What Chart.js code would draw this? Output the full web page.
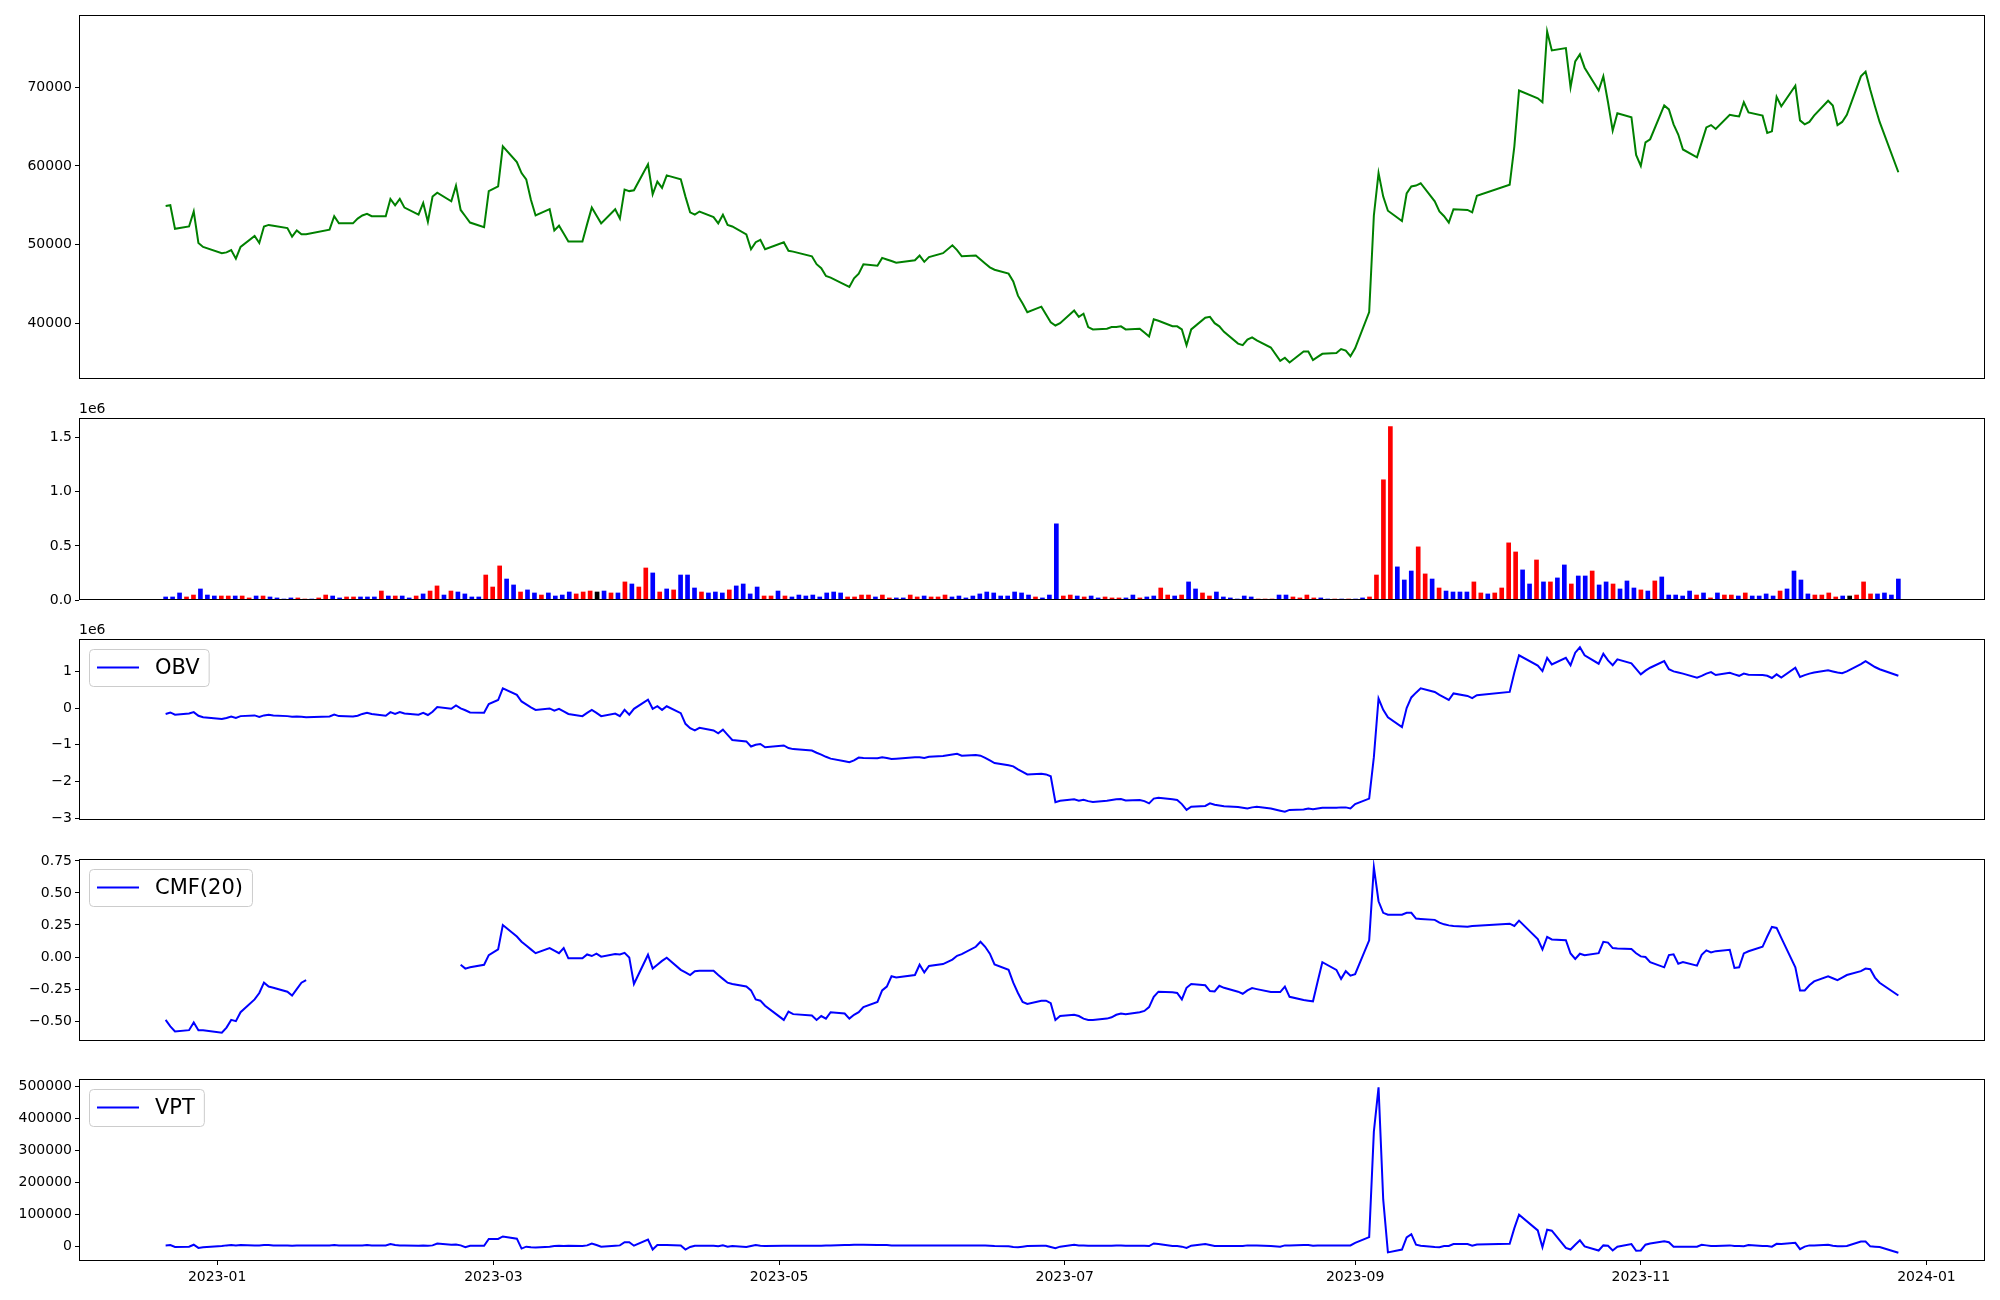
<!DOCTYPE html>
<html>
<head>
<meta charset="utf-8">
<title>Price and volume indicators</title>
<style>
  body { margin: 0; background: #fff; }
  #wrap { position: relative; width: 2000px; height: 1300px; overflow: hidden; }
  .panel { position: absolute; left: 0; width: 2000px; }
</style>
</head>
<body>
<div id="wrap">
  <div class="panel" id="p-price"></div>
  <div class="panel" id="p-volume"></div>
  <div class="panel" id="p-obv"></div>
  <div class="panel" id="p-cmf"></div>
  <div class="panel" id="p-vpt"></div>
</div>

<script src="https://cdn.jsdelivr.net/npm/chart.js"></script>
<script>
// ---- data ----
const dates = [
  '2022-12-21','2022-12-22','2022-12-23','2022-12-26','2022-12-27','2022-12-28','2022-12-29',
  '2023-01-02','2023-01-03','2023-01-04','2023-01-05','2023-01-06','2023-01-09','2023-01-10','2023-01-11','2023-01-12','2023-01-13',
  '2023-01-16','2023-01-17','2023-01-18','2023-01-19','2023-01-20','2023-01-25','2023-01-26','2023-01-27','2023-01-30','2023-01-31',
  '2023-02-01','2023-02-02','2023-02-03','2023-02-06','2023-02-07','2023-02-08','2023-02-09','2023-02-10','2023-02-13','2023-02-14',
  '2023-02-15','2023-02-16','2023-02-17','2023-02-20','2023-02-21','2023-02-22','2023-02-23','2023-02-24','2023-02-27','2023-02-28',
  '2023-03-02','2023-03-03','2023-03-06','2023-03-07','2023-03-08','2023-03-09','2023-03-10','2023-03-13','2023-03-14','2023-03-15','2023-03-16',
  '2023-03-17','2023-03-20','2023-03-21','2023-03-22','2023-03-23','2023-03-24','2023-03-27','2023-03-28','2023-03-29','2023-03-30','2023-03-31',
  '2023-04-03','2023-04-04','2023-04-05','2023-04-06','2023-04-07','2023-04-10','2023-04-11','2023-04-12','2023-04-13','2023-04-14',
  '2023-04-17','2023-04-18','2023-04-19','2023-04-20','2023-04-21','2023-04-24','2023-04-25','2023-04-26','2023-04-27','2023-04-28',
  '2023-05-02','2023-05-03','2023-05-04','2023-05-08','2023-05-09','2023-05-10','2023-05-11','2023-05-12','2023-05-15','2023-05-16',
  '2023-05-17','2023-05-18','2023-05-19','2023-05-22','2023-05-23','2023-05-24','2023-05-25','2023-05-26','2023-05-30','2023-05-31',
  '2023-06-01','2023-06-02','2023-06-05','2023-06-07','2023-06-08','2023-06-09','2023-06-12','2023-06-13','2023-06-14','2023-06-15','2023-06-16',
  '2023-06-19','2023-06-20','2023-06-21','2023-06-22','2023-06-23','2023-06-26','2023-06-27','2023-06-28','2023-06-29','2023-06-30',
  '2023-07-03','2023-07-04','2023-07-05','2023-07-06','2023-07-07','2023-07-10','2023-07-11','2023-07-12','2023-07-13','2023-07-14','2023-07-17',
  '2023-07-18','2023-07-19','2023-07-20','2023-07-21','2023-07-24','2023-07-25','2023-07-26','2023-07-27','2023-07-28','2023-07-31',
  '2023-08-01','2023-08-02','2023-08-03','2023-08-04','2023-08-07','2023-08-08','2023-08-09','2023-08-10','2023-08-11','2023-08-14','2023-08-16',
  '2023-08-17','2023-08-18','2023-08-21','2023-08-22','2023-08-23','2023-08-24','2023-08-25','2023-08-28','2023-08-29','2023-08-30','2023-08-31',
  '2023-09-01','2023-09-04','2023-09-05','2023-09-06','2023-09-07','2023-09-08','2023-09-11','2023-09-12','2023-09-13','2023-09-14',
  '2023-09-15','2023-09-18','2023-09-19','2023-09-20','2023-09-21','2023-09-22','2023-09-25','2023-09-26','2023-09-27',
  '2023-10-04','2023-10-05','2023-10-06','2023-10-10','2023-10-11','2023-10-12','2023-10-13','2023-10-16','2023-10-17','2023-10-18',
  '2023-10-19','2023-10-20','2023-10-23','2023-10-24','2023-10-25','2023-10-26','2023-10-27','2023-10-30','2023-10-31',
  '2023-11-01','2023-11-02','2023-11-03','2023-11-06','2023-11-07','2023-11-08','2023-11-09','2023-11-10','2023-11-13','2023-11-14','2023-11-15',
  '2023-11-16','2023-11-17','2023-11-20','2023-11-21','2023-11-22','2023-11-23','2023-11-24','2023-11-27','2023-11-28','2023-11-29','2023-11-30',
  '2023-12-01','2023-12-04','2023-12-05','2023-12-06','2023-12-07','2023-12-08','2023-12-11','2023-12-12','2023-12-13','2023-12-14','2023-12-15',
  '2023-12-18','2023-12-19','2023-12-20','2023-12-21','2023-12-22','2023-12-26'
];

const close = [
  54900,55000,52000,52300,54200,50200,49700,
  48900,49000,49300,48200,49700,51100,50200,52300,52500,52400,52100,51000,51800,51300,51300,51900,53600,52700,52700,53300,
  53700,53900,53600,53600,55800,55000,55800,54700,53800,55300,52900,56100,56600,55500,57500,54400,53600,52800,52200,56800,
  57400,62500,60500,59100,58300,55700,53700,54500,51800,52400,51400,50400,50400,52600,54700,53700,52700,54500,53300,57000,56800,56900,
  60200,56400,58000,57200,58800,58300,56100,54100,53800,54200,53500,52700,53800,52500,52300,51300,49400,50300,50600,49400,
  50300,49200,49100,48500,47500,47000,46000,45800,44900,44600,45700,46300,47500,47300,48300,48100,47900,47700,48000,48600,
  47800,48400,48900,49900,49300,48500,48600,48100,47600,47100,46800,46300,45300,43500,42500,41400,42100,41100,40100,39700,40000,
  41600,40800,41200,39500,39200,39300,39500,39500,39600,39200,39300,38800,38300,40500,40300,39600,39600,39200,37200,39200,40700,
  40800,40000,39600,38900,37400,37200,37900,38200,37800,36900,35200,35600,35000,36400,36400,35300,35700,36100,36200,36700,36500,35800,
  36800,41400,53700,59100,56100,54300,53000,56500,57400,57500,57800,55500,54200,53600,52800,54500,54400,54100,56200,
  57600,62500,69600,68600,68100,77100,74700,75000,70000,73300,74200,72500,69600,71400,68100,64500,66700,66200,61400,
  60000,63000,63400,67700,67200,65300,64000,62100,61100,63000,64900,65200,64700,66500,66400,66300,68100,66800,66400,64200,64400,68800,
  67600,70200,65800,65300,65600,66400,68300,67700,65200,65600,66500,71400,72000,69700,67600,65600,59200
];

const volume = [
  28000,28000,65000,28000,46000,102000,46000,37000,37000,37000,
  37000,37000,19000,37000,37000,28000,19000,9000,19000,19000,
  9000,9000,19000,46000,37000,19000,28000,28000,28000,28000,
  28000,83000,37000,37000,37000,19000,37000,56000,83000,130000,
  46000,83000,74000,56000,28000,28000,231000,120000,315000,194000,
  139000,74000,93000,65000,46000,65000,37000,46000,74000,56000,
  74000,83000,74000,83000,65000,65000,167000,148000,120000,296000,
  250000,74000,102000,93000,231000,231000,111000,74000,65000,74000,
  65000,93000,130000,148000,56000,120000,37000,37000,83000,37000,
  28000,46000,37000,46000,28000,65000,74000,65000,28000,28000,
  46000,46000,28000,46000,19000,19000,19000,46000,28000,37000,
  28000,28000,46000,28000,37000,19000,37000,56000,74000,65000,
  37000,37000,74000,65000,46000,28000,19000,46000,704000,37000,
  46000,37000,28000,37000,19000,28000,19000,19000,19000,46000,
  19000,28000,37000,111000,46000,37000,46000,167000,102000,65000,
  37000,74000,28000,19000,9000,37000,28000,9000,9000,9000,
  46000,46000,28000,19000,46000,19000,19000,9000,9000,9000,9000,9000,
  19000,28000,231000,1111000,1602000,306000,185000,268000,491000,241000,
  194000,111000,83000,74000,74000,74000,167000,65000,56000,65000,
  111000,528000,444000,278000,148000,370000,167000,167000,204000,324000,
  148000,222000,222000,268000,139000,167000,148000,102000,176000,111000,
  93000,83000,176000,213000,46000,46000,37000,83000,46000,65000,
  19000,65000,46000,46000,37000,65000,37000,37000,56000,37000,
  83000,102000,268000,185000,56000,46000,46000,65000,28000,37000,
  37000,46000,167000,56000,56000,65000,46000,194000
];

// r = close above open, b = below, k = unchanged
const volDir = [
  'bbbrrbbbrr','brrbrbbbbr','rbrrbbrrbb','brbrbbrbrr','brbbbbrrrb','brbbrbbbbr','rrkbrbrbrr','brbrbbbrbb',
  'brbbbbrrbr','bbbbbbbbrr','rrbrrbbrrb','rrrbbbbbbb','bbbbbrbbbr','rbrbbrrrbb','rbbrrbrbbr','rbbbbbbrrr','bbrrrrbbrbrb',
  'brrrrbbbrr','brbbbbrrbr','rrrbbrbrbb','rbbrbbrbbb','rbrbbbbbrb','rbrrbrbbbb','rbbbbrrrrb','krrrbbbb'
].join('').split('');

const obvMillions = [
  -0.16,-0.12,-0.18,-0.15,-0.11,-0.21,-0.25,
  -0.30,-0.27,-0.23,-0.27,-0.22,-0.20,-0.24,-0.20,-0.18,-0.20,-0.22,-0.24,-0.23,-0.24,-0.25,-0.23,-0.18,-0.22,-0.23,-0.21,
  -0.16,-0.13,-0.16,-0.21,-0.11,-0.16,-0.11,-0.15,-0.18,-0.13,-0.19,-0.10,0.03,-0.02,0.07,-0.01,-0.06,-0.12,-0.13,0.11,
  0.22,0.54,0.36,0.18,0.10,0.02,-0.05,-0.01,-0.07,-0.02,-0.09,-0.16,-0.22,-0.13,-0.05,-0.13,-0.22,-0.15,-0.22,-0.05,-0.18,-0.02,
  0.23,-0.02,0.05,-0.05,0.05,-0.14,-0.43,-0.55,-0.61,-0.54,-0.61,-0.69,-0.59,-0.73,-0.87,-0.91,-1.05,-1.00,-0.98,-1.07,
  -1.02,-1.09,-1.12,-1.16,-1.22,-1.27,-1.33,-1.38,-1.45,-1.48,-1.43,-1.35,-1.36,-1.37,-1.34,-1.36,-1.39,-1.38,-1.34,-1.34,
  -1.36,-1.33,-1.31,-1.27,-1.25,-1.30,-1.28,-1.30,-1.36,-1.43,-1.50,-1.56,-1.59,-1.67,-1.74,-1.81,-1.79,-1.81,-1.86,-2.57,-2.53,
  -2.49,-2.53,-2.50,-2.54,-2.56,-2.53,-2.51,-2.49,-2.48,-2.52,-2.51,-2.54,-2.60,-2.47,-2.45,-2.49,-2.51,-2.62,-2.78,-2.69,-2.67,
  -2.60,-2.64,-2.66,-2.68,-2.70,-2.72,-2.74,-2.71,-2.69,-2.74,-2.80,-2.83,-2.78,-2.77,-2.74,-2.76,-2.74,-2.72,-2.72,-2.71,-2.71,-2.74,
  -2.62,-2.47,-1.34,0.26,-0.05,-0.25,-0.52,0.00,0.29,0.42,0.54,0.44,0.36,0.29,0.22,0.40,0.33,0.27,0.35,
  0.44,0.97,1.44,1.16,1.01,1.37,1.19,1.37,1.17,1.51,1.66,1.44,1.21,1.48,1.30,1.17,1.33,1.22,1.07,
  0.92,1.02,1.10,1.28,1.06,1.00,0.97,0.94,0.83,0.88,0.94,0.98,0.90,0.96,0.92,0.88,0.94,0.91,0.90,0.88,0.82,0.92,
  0.83,1.10,0.85,0.90,0.94,0.97,1.03,1.00,0.97,0.95,1.00,1.20,1.28,1.20,1.12,1.06,0.88
];

const cmf20 = [
  -0.49,-0.54,-0.58,-0.57,-0.51,-0.57,-0.57,
  -0.59,-0.55,-0.49,-0.50,-0.43,-0.33,-0.28,-0.20,-0.23,-0.24,-0.27,-0.30,-0.25,-0.20,-0.18,null,null,null,null,null,
  null,null,null,null,null,null,null,null,null,null,null,null,null,null,null,-0.06,-0.09,-0.08,-0.06,0.015,
  0.06,0.25,0.16,0.12,0.09,0.06,0.03,0.07,0.05,0.03,0.07,-0.01,-0.01,0.02,0.008,0.026,0.003,0.023,0.02,0.033,-0.003,-0.21,
  0.018,-0.09,-0.06,-0.03,-0.005,-0.10,-0.12,-0.14,-0.11,-0.106,-0.106,-0.14,-0.17,-0.20,-0.21,-0.23,-0.26,-0.33,-0.34,-0.38,
  -0.49,-0.425,-0.445,-0.455,-0.49,-0.46,-0.48,-0.43,-0.44,-0.48,-0.45,-0.43,-0.39,-0.35,-0.26,-0.23,-0.15,-0.16,-0.14,-0.06,
  -0.12,-0.07,-0.055,-0.02,0.01,0.023,0.08,0.119,0.08,0.026,-0.057,-0.10,-0.20,-0.28,-0.35,-0.366,-0.34,-0.34,-0.36,-0.49,-0.46,
  -0.45,-0.46,-0.48,-0.49,-0.49,-0.48,-0.47,-0.45,-0.44,-0.445,-0.43,-0.42,-0.39,-0.31,-0.27,-0.275,-0.28,-0.33,-0.24,-0.21,-0.22,
  -0.265,-0.268,-0.224,-0.24,-0.27,-0.286,-0.26,-0.242,-0.25,-0.273,-0.273,-0.23,-0.31,-0.335,-0.34,-0.345,-0.19,-0.04,-0.10,-0.17,-0.11,-0.145,
  -0.134,0.13,0.70,0.435,0.345,0.33,0.33,0.345,0.345,0.30,0.297,0.29,0.268,0.255,0.247,0.243,0.237,0.242,0.245,
  0.26,0.242,0.284,0.14,0.059,0.157,0.137,0.131,0.028,-0.015,0.026,0.015,0.03,0.119,0.113,0.070,0.066,0.062,0.03,
  0.005,0.0,-0.04,-0.08,0.015,0.021,-0.052,-0.039,-0.067,0.018,0.052,0.036,0.046,0.057,-0.085,-0.08,0.028,0.045,0.08,0.16,0.235,0.227,
  0.15,-0.08,-0.26,-0.26,-0.22,-0.19,-0.15,-0.165,-0.18,-0.16,-0.14,-0.11,-0.09,-0.095,-0.16,-0.20,-0.30
];

const vpt = [
  2000,3000,-3000,-2000,4000,-6000,-4000,
  0,2000,3000,2000,3000,2000,2000,3000,3000,2000,2000,1000,2000,2000,2000,2000,3000,2000,2000,2000,
  2000,3000,2000,2000,6000,3000,2000,2000,1000,2000,1000,2000,8000,4000,5000,2000,-4000,1000,1000,22000,
  22000,30000,23000,-8000,-2000,-4000,-5000,-2000,0,1000,0,1000,0,2000,8000,3000,-2000,1000,2000,12000,12000,1000,
  20000,-11000,3000,3000,3000,2000,-11000,-3000,1000,1000,1000,-1000,2000,-2000,0,-3000,0,3000,1000,0,
  1000,1000,1000,1000,1000,1000,2000,2000,3000,3000,4000,4000,4000,3000,3000,3000,2000,2000,2000,2000,
  2000,2000,2000,2000,2000,2000,2000,2000,2000,1000,0,-1000,-3000,-4000,-2000,0,1000,1000,-3000,-7000,-2000,
  4000,2000,2000,1000,1000,1000,1000,2000,2000,1000,1000,1000,0,8000,6000,0,0,-2000,-6000,1000,6000,
  3000,0,0,0,0,0,2000,2000,2000,0,-2000,2000,2000,3000,3000,1000,2000,2000,2000,2000,2000,2000,
  10000,28000,358000,497000,145000,-20000,-11000,27000,37000,4000,1000,-3000,-4000,0,0,6000,6000,1000,5000,
  7000,56000,98000,49000,-4000,51000,48000,-6000,-11000,4000,18000,-1000,-14000,2000,1000,-14000,-2000,6000,-15000,
  -14000,4000,8000,15000,12000,-2000,-2000,-2000,-2000,4000,2000,0,0,2000,0,0,-1000,3000,0,0,-2000,7000,
  6000,10000,-10000,-2000,2000,2000,4000,1000,-1000,-1000,0,14000,14000,-1000,-2000,-3000,-21000
];

const xTickLabels = ['2023-01', '2023-03', '2023-05', '2023-07', '2023-09', '2023-11', '2024-01'];
const priceTicks = [40000, 50000, 60000, 70000];
const volumeTicks = [0, 500000, 1000000, 1500000];
const obvTicks = [-3e6, -2e6, -1e6, 0, 1e6];
const cmfTicks = [-0.5, -0.25, 0, 0.25, 0.5, 0.75];
const vptTicks = [0, 100000, 200000, 300000, 400000, 500000];

[close, volume, volDir, obvMillions, cmf20, vpt].forEach((a, i) => {
  if (a.length !== dates.length) console.error('length mismatch', i, a.length, dates.length);
});

// ---- helpers ----
const DAY_MS = 86400000;
const BASE = Date.UTC(2023, 0, 1);
const dayOf = s => {
  const [y, m, d] = s.split('-').map(Number);
  return (Date.UTC(y, m - 1, d || 1) - BASE) / DAY_MS;
};
const minus = s => s.replace('-', '\u2212');

const xs = dates.map(dayOf);
const xFirst = xs[0], xLast = xs[xs.length - 1];
const xMin = xFirst - 0.05 * (xLast - xFirst);
const xMax = xLast + 0.05 * (xLast - xFirst);
const xTickVals = xTickLabels.map(dayOf);
// volume bars are spread evenly over the date span, like in the source figure
const barXs = volume.map((_, i) => xFirst + i * (xLast - xFirst) / (volume.length - 1));

function autoRange(vals) {
  const v = vals.filter(n => n !== null);
  const lo = Math.min(...v), hi = Math.max(...v);
  const m = 0.05 * (hi - lo);
  return [lo - m, hi + m];
}

const obv = obvMillions.map(v => v * 1e6);
const dirColor = { r: '#ff0000', b: '#0000ff', k: '#000000' };

// ---- plugins ----
const framePlugin = {
  id: 'frame',
  afterDraw(chart) {
    const { ctx, chartArea: a } = chart;
    ctx.save();
    ctx.strokeStyle = '#000';
    ctx.lineWidth = 1;
    ctx.strokeRect(Math.round(a.left) + 0.5, Math.round(a.top) + 0.5,
                   Math.round(a.width) - 1, Math.round(a.height) - 1);
    ctx.restore();
  }
};

const mplLegend = {
  id: 'mplLegend',
  afterDraw(chart, args, opts) {
    if (!opts.label) return;
    const { ctx, chartArea: a } = chart;
    ctx.save();
    ctx.font = '21px "DejaVu Sans"';
    const tw = ctx.measureText(opts.label).width;
    const x = Math.round(a.left) + 10, y = Math.round(a.top) + 10;
    const w = 8 + 42 + 17 + tw + 8, h = 37;
    ctx.beginPath();
    ctx.roundRect(x + 0.5, y + 0.5, w, h, 4);
    ctx.fillStyle = 'rgba(255,255,255,0.8)';
    ctx.fill();
    ctx.strokeStyle = '#cccccc';
    ctx.lineWidth = 1;
    ctx.stroke();
    const cy = y + h / 2;
    ctx.strokeStyle = opts.color;
    ctx.lineWidth = 2;
    ctx.beginPath();
    ctx.moveTo(x + 8, cy);
    ctx.lineTo(x + 50, cy);
    ctx.stroke();
    ctx.fillStyle = '#000';
    ctx.textBaseline = 'middle';
    ctx.fillText(opts.label, x + 66, cy + 1);
    ctx.restore();
  }
};

const offsetText = {
  id: 'offsetText',
  afterDraw(chart, args, opts) {
    if (!opts.text) return;
    const { ctx, chartArea: a } = chart;
    ctx.save();
    ctx.font = '14px "DejaVu Sans"';
    ctx.fillStyle = '#000';
    ctx.textBaseline = 'alphabetic';
    ctx.fillText(opts.text, a.left, a.top - 5);
    ctx.restore();
  }
};

Chart.register(mplLegend, offsetText);
Chart.defaults.font.family = '"DejaVu Sans", sans-serif';
Chart.defaults.font.size = 14;
Chart.defaults.color = '#000';

// ---- panels ----
const AREA_L = 79, AREA_R = 1985;

function makePanel(p) {
  const holder = document.getElementById(p.id);
  const padTop = Math.min(20, p.top);
  const padBottom = p.xAxis ? 0 : 20;
  const axisH = p.xAxis ? 40 : 0;
  const h = (p.bottom - p.top) + padTop + padBottom + axisH;
  holder.style.top = (p.top - padTop) + 'px';
  const canvas = document.createElement('canvas');
  canvas.width = 2000;
  canvas.height = h;
  holder.appendChild(canvas);

  const tickGrid = { display: true, drawOnChartArea: false, drawTicks: true, tickLength: 4, color: '#000', offset: false };

  return new Chart(canvas, {
    type: p.type,
    data: { datasets: [p.dataset] },
    options: {
      responsive: false,
      animation: false,
      events: [],
      layout: { padding: { top: padTop, bottom: padBottom, left: 0, right: 2000 - AREA_R } },
      plugins: {
        legend: { display: false },
        tooltip: { enabled: false },
        mplLegend: { label: p.legend || null, color: p.dataset.borderColor },
        offsetText: { text: p.offset || null }
      },
      scales: {
        x: {
          type: 'linear',
          min: xMin,
          max: xMax,
          offset: false,
          display: !!p.xAxis,
          grid: tickGrid,
          border: { display: false },
          ticks: {
            padding: 4,
            maxRotation: 0,
            autoSkip: false,
            callback: v => {
              const i = xTickVals.indexOf(v);
              return i >= 0 ? xTickLabels[i] : '';
            }
          },
          afterBuildTicks: s => { s.ticks = xTickVals.map(v => ({ value: v })); },
          afterFit: s => { s.height = axisH; }
        },
        y: {
          type: 'linear',
          min: p.range[0],
          max: p.range[1],
          grid: tickGrid,
          border: { display: false },
          ticks: { padding: 3, callback: p.fmt },
          afterBuildTicks: s => { s.ticks = p.ticks.map(v => ({ value: v })); },
          afterFit: s => { s.width = AREA_L; }
        }
      }
    },
    plugins: [framePlugin]
  });
}

function lineSet(values, color, label) {
  return {
    label: label,
    data: xs.map((x, i) => ({ x: x, y: values[i] })),
    borderColor: color,
    backgroundColor: color,
    borderWidth: 2,
    pointRadius: 0,
    tension: 0,
    spanGaps: false,
    fill: false
  };
}

makePanel({
  id: 'p-price', type: 'line', top: 15, bottom: 379,
  dataset: lineSet(close, '#008000', 'Close'),
  range: autoRange(close), ticks: priceTicks,
  fmt: v => String(v)
});

makePanel({
  id: 'p-volume', type: 'bar', top: 418, bottom: 600,
  dataset: {
    label: 'Volume',
    data: barXs.map((x, i) => ({ x: x, y: volume[i] })),
    backgroundColor: volDir.map(c => dirColor[c]),
    borderColor: '#000',
    borderWidth: 0,
    barThickness: 4
  },
  range: [0, 1.05 * Math.max(...volume)], ticks: volumeTicks,
  fmt: v => (v / 1e6).toFixed(1),
  offset: '1e6'
});

makePanel({
  id: 'p-obv', type: 'line', top: 639, bottom: 820,
  dataset: lineSet(obv, '#0000ff', 'OBV'), legend: 'OBV',
  range: autoRange(obv), ticks: obvTicks,
  fmt: v => minus(String(Math.round(v / 1e6))),
  offset: '1e6'
});

makePanel({
  id: 'p-cmf', type: 'line', top: 859, bottom: 1041,
  dataset: lineSet(cmf20, '#0000ff', 'CMF(20)'), legend: 'CMF(20)',
  range: autoRange(cmf20), ticks: cmfTicks,
  fmt: v => minus(v.toFixed(2))
});

makePanel({
  id: 'p-vpt', type: 'line', top: 1079, bottom: 1261, xAxis: true,
  dataset: lineSet(vpt, '#0000ff', 'VPT'), legend: 'VPT',
  range: autoRange(vpt), ticks: vptTicks,
  fmt: v => String(v)
});
</script>
</body>
</html>
